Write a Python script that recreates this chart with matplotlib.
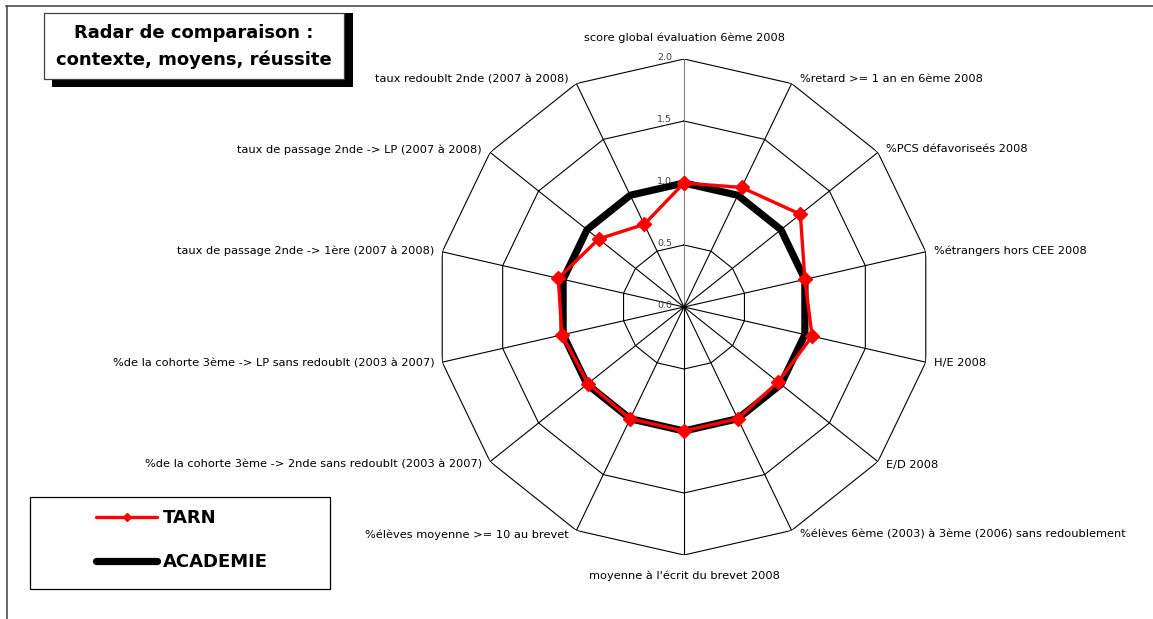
import numpy as np
import matplotlib
matplotlib.use("Agg")
import matplotlib.pyplot as plt
from matplotlib.patches import Rectangle
from matplotlib.lines import Line2D

plt.rcParams['font.family'] = ['DejaVu Sans']

# ---------------- data ----------------
categories = [
    "score global évaluation 6ème 2008",
    "%retard >= 1 an en 6ème 2008",
    "%PCS défavoriseés 2008",
    "%étrangers hors CEE 2008",
    "H/E 2008",
    "E/D 2008",
    "%élèves 6ème (2003) à 3ème (2006) sans redoublement",
    "moyenne à l'écrit du brevet 2008",
    "%élèves moyenne >= 10 au brevet",
    "%de la cohorte 3ème -> 2nde sans redoublt (2003 à 2007)",
    "%de la cohorte 3ème -> LP sans redoublt (2003 à 2007)",
    "taux de passage 2nde -> 1ère (2007 à 2008)",
    "taux de passage 2nde -> LP (2007 à 2008)",
    "taux redoublt 2nde (2007 à 2008)",
]
tarn = [1.00, 1.07, 1.20, 1.00, 1.06, 0.97, 1.00, 1.00, 1.00, 0.99, 1.01, 1.04, 0.88, 0.74]
academie = [1.00, 1.00, 1.00, 1.00, 1.00, 1.00, 1.00, 1.00, 1.00, 1.00, 1.00, 1.00, 1.00, 1.00]
series_names = ["TARN", "ACADEMIE"]
ring_levels = [0.5, 1.0, 1.5, 2.0]
tick_values = [0.0, 0.5, 1.0, 1.5, 2.0]
tick_labels = ["0.0", "0.5", "1.0", "1.5", "2.0"]
title_lines = ["Radar de comparaison :", "contexte, moyens, réussite"]

# ---------------- figure ----------------
W, H = 1153, 619
fig = plt.figure(figsize=(W / 100, H / 100), dpi=100)
fig.patch.set_facecolor('white')


def fx(x):
    return x / W


def fy(y):
    return 1 - y / H


# outer frame (top and left edges visible)
fig.add_artist(Line2D([fx(6), fx(W)], [fy(5.5), fy(5.5)], color='#404040', lw=1.1))
fig.add_artist(Line2D([fx(6.5), fx(6.5)], [fy(5.5), fy(H)], color='#404040', lw=1.1))

# radar axes
cx, cy, R = 684, 307, 248
ax = fig.add_axes([fx(cx - R), fy(cy + R), 2 * R / W, 2 * R / H], projection='polar')
ax.set_theta_zero_location('N')
ax.set_theta_direction(-1)
ax.set_ylim(0, 2.0)
ax.grid(False)
ax.set_xticks([])
ax.set_yticks([])
ax.spines['polar'].set_visible(False)
ax.patch.set_visible(False)

n = len(categories)
theta = np.arange(n) * 2 * np.pi / n
closed = np.append(theta, theta[0])

for lev in ring_levels:
    ax.plot(closed, [lev] * (n + 1), color='black', lw=0.8, zorder=1)
for i, t in enumerate(theta):
    ax.plot([t, t], [0, ring_levels[-1]], color='#808080' if i == 0 else 'black',
            lw=0.8, zorder=1)

l_acad, = ax.plot(closed, academie + [academie[0]], color='black', lw=5.2, zorder=3,
                  solid_capstyle='round')
l_tarn, = ax.plot(closed, tarn + [tarn[0]], color='#ff0000', lw=2.4, marker='D',
                  ms=6.8, mec='#ff0000', mfc='#ff0000', zorder=4,
                  solid_capstyle='round')

# category labels
for t, lab in zip(theta, categories):
    s, c = np.sin(t), np.cos(t)
    if abs(s) < 1e-6:
        dx, dy, ha = 0, 21 * np.sign(c), 'center'
    else:
        dx, dy = 8 * np.sign(s), 5 * c
        ha = 'left' if s > 0 else 'right'
    ax.annotate(lab, xy=(t, ring_levels[-1]), xytext=(dx, dy), textcoords='offset pixels',
                ha=ha, va='center', fontsize=8.2, annotation_clip=False)

# radial tick labels
for v, lab in zip(tick_values, tick_labels):
    ax.annotate(lab, xy=(0, v), xytext=(-12, 2), textcoords='offset pixels',
                ha='right', va='center', fontsize=6.8, color='#404040',
                annotation_clip=False)

# title box with shadow
fig.add_artist(Rectangle((fx(52), fy(87)), fx(301), 74 / H, transform=fig.transFigure,
                         facecolor='black', edgecolor='black', lw=0))
fig.add_artist(Rectangle((fx(44), fy(79)), fx(300), 66 / H, transform=fig.transFigure,
                         facecolor='white', edgecolor='#404040', lw=0.9))
fig.text(fx(194), fy(38), title_lines[0], ha='center', va='baseline',
         fontsize=13, fontweight='bold')
fig.text(fx(194), fy(65), title_lines[1], ha='center', va='baseline',
         fontsize=13, fontweight='bold')

# legend box
fig.add_artist(Rectangle((fx(30), fy(589)), fx(300), 92 / H, transform=fig.transFigure,
                         facecolor='white', edgecolor='black', lw=0.9))
leg = fig.legend([l_tarn, l_acad], series_names, loc='center left',
                 bbox_to_anchor=(fx(96), fy(540)), frameon=False, borderpad=0,
                 borderaxespad=0, handlelength=3.4, handletextpad=0.3,
                 labelspacing=1.42, markerscale=0.6,
                 prop={'weight': 'bold', 'size': 13})

fig.savefig('out.png', dpi=100)
